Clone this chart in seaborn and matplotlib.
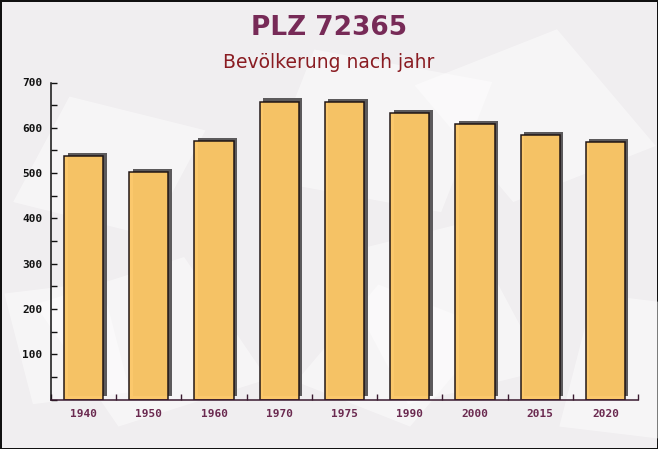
import matplotlib
matplotlib.use("Agg")
import matplotlib.pyplot as plt
import matplotlib.transforms as mtransforms
from matplotlib.patches import Rectangle
from matplotlib.ticker import MultipleLocator, FixedLocator
import seaborn as sns
import pandas as pd

# ---- data ----
years = ["1940", "1950", "1960", "1970", "1975", "1990", "2000", "2015", "2020"]
population = [537, 502, 570, 657, 656, 632, 608, 583, 568]
y_ticks = [0, 100, 200, 300, 400, 500, 600, 700]
title = "PLZ 72365"
subtitle = "Bevölkerung nach jahr"

df = pd.DataFrame({"jahr": years, "einwohner": population})

sns.set_theme(style="white")
plt.rcParams["font.family"] = ["DejaVu Sans"]

fig = plt.figure(figsize=(6.58, 4.49), dpi=100)
fig.patch.set_facecolor("#f0eef0")
fig.patch.set_edgecolor("#111111")
fig.patch.set_linewidth(2)

# faint decorative background shapes (envelope-like)
bg_shapes = [
    (0.02, 0.55, 0.22, 0.25, -20), (0.18, 0.05, 0.25, 0.3, 25),
    (0.40, 0.60, 0.28, 0.30, -15), (0.62, 0.10, 0.22, 0.35, 20),
    (0.78, 0.55, 0.25, 0.30, 30), (0.05, 0.10, 0.15, 0.25, 10),
    (0.45, 0.15, 0.2, 0.25, -30), (0.85, 0.05, 0.18, 0.3, -10),
]
for (x0, y0, w, h, ang) in bg_shapes:
    r = Rectangle((x0, y0), w, h, angle=ang, transform=fig.transFigure,
                  facecolor="white", alpha=0.45, edgecolor="none", zorder=-10)
    fig.patches.append(r)

ax = fig.add_axes([51 / 658, 1 - 399.5 / 449, 587 / 658, 317 / 449])
ax.set_facecolor("none")
ax.set_zorder(1)

# shadow bars
sns.barplot(data=df, x="jahr", y="einwohner", ax=ax, color="#5c5a5c",
            width=0.6, saturation=1, zorder=2, errorbar=None)
offset = mtransforms.ScaledTranslation(3.5 / 100, 3.5 / 100, fig.dpi_scale_trans)
for p in ax.patches:
    p.set_transform(ax.transData + offset)
    p.set_edgecolor("none")
    p.set_clip_on(False)
n_shadow = len(ax.patches)

# main bars
sns.barplot(data=df, x="jahr", y="einwohner", ax=ax, color="#fcc766",
            width=0.6, saturation=1, zorder=3, errorbar=None)
for p in ax.patches[n_shadow:]:
    p.set_edgecolor("#1a1010")
    p.set_linewidth(1.1)
    p.set_alpha(0.96)

ax.set_xlim(-0.5, len(years) - 0.5)
ax.set_ylim(0, 700)
ax.set_xlabel("")
ax.set_ylabel("")

for s in ["top", "right"]:
    ax.spines[s].set_visible(False)
ax.spines["left"].set_color("#111111")
ax.spines["bottom"].set_color("#3a1a30")
ax.spines["left"].set_linewidth(1.1)
ax.spines["bottom"].set_linewidth(1.1)
ax.spines["bottom"].set_zorder(5)

ax.yaxis.set_major_locator(FixedLocator(y_ticks))
ax.yaxis.set_minor_locator(MultipleLocator(50))
ax.tick_params(axis="y", which="both", direction="in", length=4, width=1,
               color="#111111", left=True, pad=6)
ax.tick_params(axis="y", which="major", labelsize=8, labelcolor="#111111")
for lab in ax.get_yticklabels():
    lab.set_fontfamily("DejaVu Sans Mono")
    lab.set_fontweight("bold")
ax.yaxis.get_major_ticks()[0].label1.set_visible(False)

ax.xaxis.set_minor_locator(FixedLocator([i - 0.5 for i in range(len(years) + 1)]))
ax.tick_params(axis="x", which="major", length=0, pad=7, labelsize=8,
               labelcolor="#6b2a50")
ax.tick_params(axis="x", which="minor", direction="in", length=4, width=1,
               color="#3a1a30", bottom=True)
for lab in ax.get_xticklabels():
    lab.set_fontfamily("DejaVu Sans Mono")
    lab.set_fontweight("bold")

fig.text(0.5, 1 - 28 / 449, title, ha="center", va="center", fontsize=19,
         fontweight="bold", color="#772a57")
fig.text(0.5, 1 - 62 / 449, subtitle, ha="center", va="center", fontsize=13.5,
         color="#8a1c22")

fig.savefig("out.png", dpi=100, facecolor=fig.get_facecolor(),
            edgecolor=fig.get_edgecolor())
